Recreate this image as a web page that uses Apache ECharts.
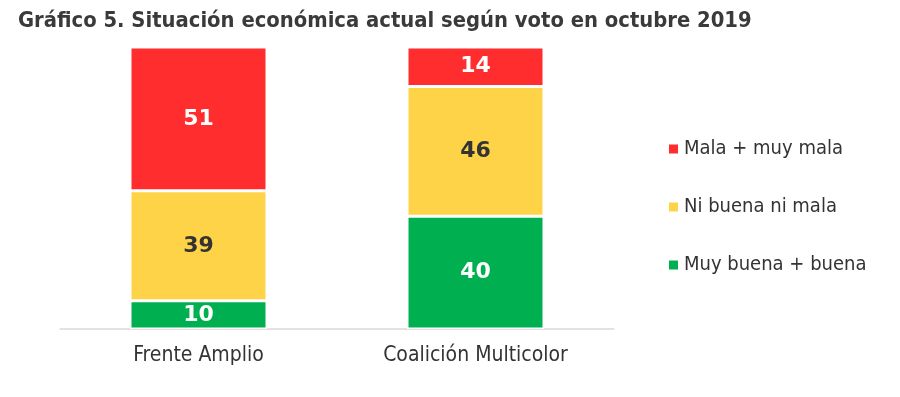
<!DOCTYPE html>
<html>
<head>
<meta charset="utf-8">
<script src="https://cdn.jsdelivr.net/npm/echarts@6/dist/echarts.min.js"></script>
<style>
  html, body { margin: 0; padding: 0; background: #fff; }
  #chart { width: 900px; height: 397px; }
</style>
</head>
<body>
<div id="chart"></div>
<script>
'use strict'
var categorias = ['Frente Amplio', 'Coalición Multicolor'];
var muyBuena = [10, 40];
var niBuena = [39, 46];
var mala = [51, 14];

var FONT = '"DejaVu Sans", Verdana, sans-serif';
var FONT_C = '"DejaVu Sans Condensed", "DejaVu Sans", sans-serif';

function serie(name, data, color, labelColor) {
    return {
        name: name,
        type: 'bar',
        stack: 'total',
        barWidth: 137,
        data: data,
        itemStyle: { color: color, borderColor: '#fff', borderWidth: 1.5 },
        label: {
            show: true,
            position: 'inside',
            color: labelColor,
            fontFamily: FONT,
            fontWeight: 'bold',
            fontSize: 22
        }
    };
}

var chart = echarts.init(document.getElementById('chart'));
var option = {
    backgroundColor: '#fff',
    animation: false,
    title: {
        text: 'Gráfico 5. Situación económica actual según voto en octubre 2019',
        left: 13,
        top: 5,
        textStyle: { fontFamily: FONT_C, fontWeight: 'bold', fontSize: 21.8, color: '#3a3a3a' }
    },
    legend: {
        orient: 'vertical',
        left: 662,
        top: 134,
        itemWidth: 11,
        itemHeight: 11,
        itemGap: 38,
        icon: 'rect',
        data: ['Mala + muy mala', 'Ni buena ni mala', 'Muy buena + buena'],
        textStyle: { fontFamily: FONT_C, fontSize: 20, color: '#333' }
    },
    grid: { left: 60, right: 286, top: 47, bottom: 68 },
    xAxis: {
        type: 'category',
        data: categorias,
        axisLine: { lineStyle: { color: '#d9d9d9', width: 1.5 } },
        axisTick: { show: false },
        axisLabel: { fontFamily: FONT_C, fontSize: 21, color: '#333', margin: 16 }
    },
    yAxis: {
        type: 'value',
        min: 0,
        max: 100,
        show: false
    },
    series: [
        serie('Muy buena + buena', muyBuena, '#00b050', '#fff'),
        serie('Ni buena ni mala', niBuena, '#ffd347', '#333'),
        serie('Mala + muy mala', mala, '#ff2d2d', '#fff')
    ]
};
chart.setOption(option);
</script>
</body>
</html>
